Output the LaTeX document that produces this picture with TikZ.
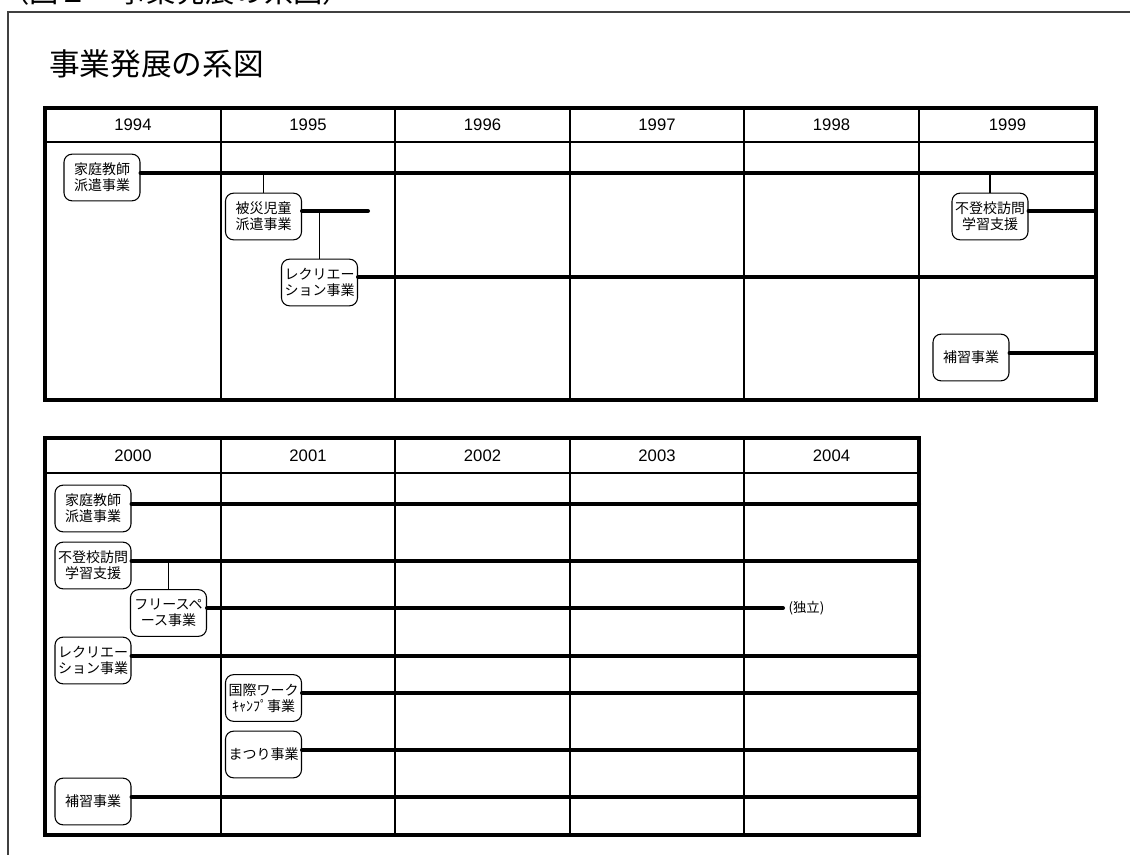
\documentclass[tikz,border=0pt]{standalone}
\usepackage{fontspec}
\setmainfont{Liberation Sans}
\newfontfamily\jp{Noto Sans CJK JP}
\begin{document}
\begin{tikzpicture}[x=0.75pt,y=-0.75pt,
  grid/.style={line width=0.8pt},
  tframe/.style={line width=2.3pt},
  biz/.style={line width=3pt,line cap=round},
  link/.style={line width=0.8pt},
  box/.style={draw,fill=white,line width=0.8pt,rounded corners=6pt,minimum width=57pt,minimum height=35pt,inner sep=1pt,align=center,font=\jp\fontsize{10.5}{12}\selectfont},
  year/.style={font=\fontsize{12.5}{14}\selectfont,inner sep=0pt}]
\useasboundingbox (0,0) rectangle (1130,855);
% outer frame
\draw[line width=0.8pt,black!75] (8,855) -- (8,12) -- (1130,12);
% caption and title
\node[anchor=base west,inner sep=0pt,font=\jp\fontsize{22}{24}\selectfont] (cap) at (0,3) {（図２　事業発展の系図）};
\node[anchor=base west,inner sep=0pt,font=\jp\fontsize{23}{26}\selectfont] (title) at (49,76) {事業発展の系図};

% ---------- top table ----------
\draw[grid] (45,142) -- (1096,142);
\foreach \x in {221,395,570,744,919} \draw[grid] (\x,108) -- (\x,400);
\draw[tframe] (45,108) rectangle (1096,400);
\foreach \yr/\cx in {1994/133,1995/308,1996/482.5,1997/657,1998/831.5,1999/1007.5}
  \node[year] (h\yr) at (\cx,125) {\yr};

\node[box] (t1) at (102,177.5) {家庭教師\\派遣事業};
\node[box] (t2) at (263.5,216.5) {被災児童\\派遣事業};
\node[box] (t3) at (319.5,282.5) {レクリエー\\ション事業};
\node[box] (t4) at (990,216.5) {不登校訪問\\学習支援};
\node[box] (t5) at (971,357.5) {補習事業};

\coordinate (e1) at (1096,173);
\coordinate (e2) at (368,211);
\coordinate (e3) at (1096,277);
\coordinate (e4) at (1096,211);
\coordinate (e5) at (1096,353);
\draw[biz] (t1.east |- e1) -- (e1);
\draw[biz] (t2.east |- e2) -- (e2);
\draw[biz] (t3.east |- e3) -- (e3);
\draw[biz] (t4.east |- e4) -- (e4);
\draw[biz] (t5.east |- e5) -- (e5);
\draw[link] (t2.north) -- (t2.north |- e1);
\draw[link] (t3.north) -- (t3.north |- e2);
\draw[link] (t4.north) -- (t4.north |- e1);

% ---------- bottom table ----------
\draw[grid] (45,473) -- (919,473);
\foreach \x in {221,395,570,744} \draw[grid] (\x,438) -- (\x,835);
\draw[tframe] (45,438) rectangle (919,835);
\foreach \yr/\cx in {2000/133,2001/308,2002/482.5,2003/657,2004/831.5}
  \node[year] (h\yr) at (\cx,455.5) {\yr};

\node[box] (b1) at (93,508.5) {家庭教師\\派遣事業};
\node[box] (b2) at (93,565.5) {不登校訪問\\学習支援};
\node[box] (b3) at (168.5,613) {フリースペ\\ース事業};
\node[box] (b4) at (93,660.5) {レクリエー\\ション事業};
\node[box] (b5) at (263.5,698) {国際ワーク\\ｷｬﾝﾌﾟ事業};
\node[box] (b6) at (263.5,754.5) {まつり事業};
\node[box] (b7) at (93,801.5) {補習事業};

\coordinate (f1) at (919,504);
\coordinate (f2) at (919,561);
\coordinate (f3) at (783,608);
\coordinate (f4) at (919,656);
\coordinate (f5) at (919,693);
\coordinate (f6) at (919,750);
\coordinate (f7) at (919,797);
\draw[biz] (b1.east |- f1) -- (f1);
\draw[biz] (b2.east |- f2) -- (f2);
\draw[biz] (b3.east |- f3) -- (f3);
\draw[biz] (b4.east |- f4) -- (f4);
\draw[biz] (b5.east |- f5) -- (f5);
\draw[biz] (b6.east |- f6) -- (f6);
\draw[biz] (b7.east |- f7) -- (f7);
\draw[link] (b3.north) -- (b3.north |- f2);
\node[anchor=west,inner sep=4pt,font=\jp\fontsize{10}{12}\selectfont] (ind) at (f3) {(独立)};
\end{tikzpicture}
\end{document}
